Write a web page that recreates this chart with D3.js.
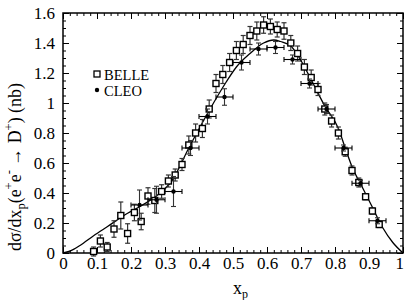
<!DOCTYPE html>
<html>
<head>
<meta charset="utf-8">
<script src="https://cdn.jsdelivr.net/npm/d3@7"></script>
<style>
  html, body { margin: 0; padding: 0; background: #fff; }
  svg { display: block; }
  text { font-family: "Liberation Serif", "Times New Roman", serif; fill: #000; }
</style>
</head>
<body>
<svg id="chart" width="405" height="300"></svg>
<script>
// ---- Data ----
const belleX = [0.09,0.11,0.13,0.15,0.17,0.19,0.21,0.23,0.25,0.27,0.29,0.31,0.33,0.35,0.37,0.39,0.41,0.43,0.45,0.47,0.49,0.51,0.53,0.55,0.57,0.59,0.61,0.63,0.65,0.67,0.69,0.71,0.73,0.75,0.77,0.79,0.81,0.83,0.85,0.87,0.89,0.91,0.93];
const belleY = [0.01,0.08,0.04,0.16,0.25,0.13,0.27,0.21,0.38,0.35,0.41,0.48,0.52,0.59,0.72,0.80,0.83,0.96,1.13,1.19,1.27,1.35,1.39,1.45,1.48,1.52,1.51,1.49,1.48,1.40,1.33,1.24,1.17,1.09,0.96,0.88,0.80,0.675,0.55,0.47,0.375,0.28,0.19];
const belleErr = [0.03,0.04,0.03,0.055,0.09,0.065,0.055,0.055,0.055,0.08,0.045,0.04,0.04,0.04,0.06,0.06,0.06,0.06,0.06,0.06,0.06,0.06,0.06,0.06,0.06,0.055,0.05,0.05,0.055,0.05,0.05,0.05,0.05,0.04,0.04,0.04,0.04,0.03,0.03,0.03,0.02,0.02,0.02];

const cleoX = [0.225,0.275,0.325,0.375,0.425,0.475,0.525,0.575,0.625,0.675,0.725,0.775,0.825,0.875,0.925];
const cleoY = [0.32,0.355,0.41,0.70,0.91,1.04,1.27,1.36,1.37,1.29,1.13,0.96,0.70,0.465,0.215];
const cleoErrY = [0.10,0.09,0.10,0.05,0.05,0.055,0.05,0.04,0.04,0.03,0.03,0.03,0.02,0.02,0.02];
const cleoErrX = [0.025,0.025,0.025,0.025,0.025,0.025,0.025,0.025,0.025,0.025,0.025,0.025,0.025,0.025,0.025];

const fitX = [0,0.02,0.05,0.09,0.13,0.19,0.23,0.28,0.32,0.37,0.43,0.48,0.51,0.55,0.59,0.62,0.64,0.67,0.69,0.73,0.77,0.81,0.83,0.85,0.88,0.91,0.94,0.97,1.0];
const fitY = [0,0.012,0.05,0.115,0.175,0.265,0.315,0.39,0.48,0.70,0.95,1.14,1.24,1.33,1.40,1.42,1.41,1.38,1.32,1.155,0.98,0.83,0.70,0.575,0.44,0.305,0.17,0.07,0];

const xMajor = [0,0.1,0.2,0.3,0.4,0.5,0.6,0.7,0.8,0.9,1];
const xTickLabels = ["0","0.1","0.2","0.3","0.4","0.5","0.6","0.7","0.8","0.9","1"];
const yMajor = [0,0.2,0.4,0.6,0.8,1.0,1.2,1.4,1.6];
const yTickLabels = ["0","0.2","0.4","0.6","0.8","1","1.2","1.4","1.6"];
const xMinor = d3.range(0, 51).map(i => i / 50);
const yMinor = d3.range(0, 33).map(i => i / 20);

const legendLabels = ["BELLE", "CLEO"];

// ---- Layout ----
const L = 63, R = 403, T = 13, B = 253;
const svg = d3.select("#chart");
const x = d3.scaleLinear().domain([0, 1]).range([L, R]);
const y = d3.scaleLinear().domain([0, 1.6]).range([B, T]);
const FONT = '"Liberation Serif", "Times New Roman", serif';

function styleAxis(g) {
  g.attr("font-family", FONT);
  g.select(".domain").remove();
  g.selectAll("line").attr("stroke", "#000").attr("stroke-width", 1);
}
svg.append("g").attr("transform", `translate(0,${B})`)
  .call(d3.axisBottom(x).tickValues(xMinor).tickSize(-3).tickFormat(""))
  .call(styleAxis);
svg.append("g").attr("transform", `translate(0,${B})`)
  .call(d3.axisBottom(x).tickValues(xMajor).tickSize(-6).tickPadding(4)
        .tickFormat((d, i) => xTickLabels[i]))
  .call(styleAxis)
  .call(g => g.selectAll("text").style("font-size", "17px"))
  .call(g => g.selectAll("text").filter(d => d === 1).attr("text-anchor", "end").attr("x", 0.5));
svg.append("g").attr("transform", `translate(0,${T})`)
  .call(d3.axisTop(x).tickValues(xMinor).tickSize(-3).tickFormat(""))
  .call(styleAxis);
svg.append("g").attr("transform", `translate(0,${T})`)
  .call(d3.axisTop(x).tickValues(xMajor).tickSize(-6).tickFormat(""))
  .call(styleAxis);

svg.append("g").attr("transform", `translate(${L},0)`)
  .call(d3.axisLeft(y).tickValues(yMinor).tickSize(-3).tickFormat(""))
  .call(styleAxis);
svg.append("g").attr("transform", `translate(${L},0)`)
  .call(d3.axisLeft(y).tickValues(yMajor).tickSize(-6).tickPadding(8)
        .tickFormat((d, i) => yTickLabels[i]))
  .call(styleAxis)
  .call(g => g.selectAll("text").style("font-size", "17px"));
svg.append("g").attr("transform", `translate(${R},0)`)
  .call(d3.axisRight(y).tickValues(yMinor).tickSize(-3).tickFormat(""))
  .call(styleAxis);
svg.append("g").attr("transform", `translate(${R},0)`)
  .call(d3.axisRight(y).tickValues(yMajor).tickSize(-6).tickFormat(""))
  .call(styleAxis);

// frame
svg.append("rect").attr("x", L).attr("y", T).attr("width", R - L).attr("height", B - T)
  .attr("fill", "none").attr("stroke", "#000").attr("stroke-width", 1.5);

// fit curve
const line = d3.line().x((d, i) => x(fitX[i])).y((d, i) => y(fitY[i])).curve(d3.curveMonotoneX);
svg.append("path").datum(fitX).attr("d", line)
  .attr("fill", "none").attr("stroke", "#000").attr("stroke-width", 1.3);

// BELLE error bars
const belle = svg.append("g");
belleX.forEach((bx, i) => {
  const cx = x(bx), y1 = y(belleY[i] - belleErr[i]), y2 = y(belleY[i] + belleErr[i]);
  belle.append("line").attr("x1", cx).attr("x2", cx).attr("y1", y1).attr("y2", y2)
    .attr("stroke", "#333").attr("stroke-width", 1.2);
  [y1, y2].forEach(yy => belle.append("line").attr("x1", cx - 2.5).attr("x2", cx + 2.5)
    .attr("y1", yy).attr("y2", yy).attr("stroke", "#333").attr("stroke-width", 1.2));
});
belle.selectAll("rect").data(belleX).join("rect")
  .attr("x", d => x(d) - 3).attr("y", (d, i) => y(belleY[i]) - 3)
  .attr("width", 6).attr("height", 6)
  .attr("fill", "#fff").attr("stroke", "#000").attr("stroke-width", 1.4);

// CLEO error bars
const cleo = svg.append("g");
cleoX.forEach((cxv, i) => {
  const cx = x(cxv), cy = y(cleoY[i]);
  const xa = x(cxv - cleoErrX[i]), xb = x(cxv + cleoErrX[i]);
  const ya = y(cleoY[i] - cleoErrY[i]), yb = y(cleoY[i] + cleoErrY[i]);
  cleo.append("line").attr("x1", xa).attr("x2", xb).attr("y1", cy).attr("y2", cy)
    .attr("stroke", "#000").attr("stroke-width", 1.1);
  [xa, xb].forEach(xx => cleo.append("line").attr("x1", xx).attr("x2", xx)
    .attr("y1", cy - 2.5).attr("y2", cy + 2.5).attr("stroke", "#000").attr("stroke-width", 1.1));
  cleo.append("line").attr("x1", cx).attr("x2", cx).attr("y1", ya).attr("y2", yb)
    .attr("stroke", "#333").attr("stroke-width", 1.1);
  [ya, yb].forEach(yy => cleo.append("line").attr("x1", cx - 2.5).attr("x2", cx + 2.5)
    .attr("y1", yy).attr("y2", yy).attr("stroke", "#333").attr("stroke-width", 1.1));
});
cleo.selectAll("circle").data(cleoX).join("circle")
  .attr("cx", d => x(d)).attr("cy", (d, i) => y(cleoY[i])).attr("r", 2.2).attr("fill", "#000");

// legend
const lg = svg.append("g");
lg.append("rect").attr("x", 94).attr("y", 71).attr("width", 6).attr("height", 6)
  .attr("fill", "#fff").attr("stroke", "#000").attr("stroke-width", 1.3);
lg.append("text").attr("x", 104).attr("y", 79.5).style("font-size", "14.5px").text(legendLabels[0]);
lg.append("circle").attr("cx", 97).attr("cy", 90).attr("r", 2.2).attr("fill", "#000");
lg.append("text").attr("x", 104).attr("y", 95.5).style("font-size", "14.5px").text(legendLabels[1]);

// axis titles
const xt = svg.append("text").attr("x", 233).attr("y", 294).style("font-size", "18px");
xt.append("tspan").text("x");
xt.append("tspan").attr("dy", 4).style("font-size", "12px").text("p");

function yTitle(fs) {
  const s = fs * 0.7, up = fs * 0.42, dn = fs * 0.25;
  const t = svg.append("text").attr("transform", "translate(21,251) rotate(-90)")
    .style("font-size", fs + "px");
  t.append("tspan").text("dσ/dx");
  t.append("tspan").attr("dy", dn).style("font-size", s + "px").text("p");
  t.append("tspan").attr("dy", -dn).text("(e");
  t.append("tspan").attr("dy", -up).style("font-size", s + "px").text("+");
  t.append("tspan").attr("dy", up).text("e");
  t.append("tspan").attr("dy", -up).style("font-size", s + "px").text("-");
  t.append("tspan").attr("dy", up).text(" → D");
  t.append("tspan").attr("dy", -up).style("font-size", s + "px").text("+");
  t.append("tspan").attr("dy", up).text(") (nb)");
  return t;
}
let yt = yTitle(17);
const len = yt.node().getComputedTextLength();
if (Math.abs(len - 168) > 3) { yt.remove(); yt = yTitle(17 * 168 / len); }
</script>
</body>
</html>
